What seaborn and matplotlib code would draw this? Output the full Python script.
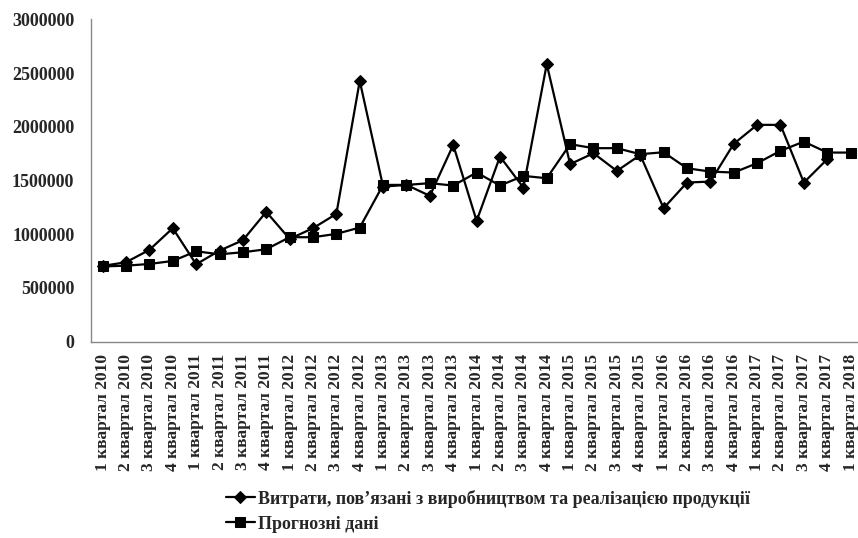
import numpy as np
import pandas as pd
import seaborn as sns
import matplotlib.pyplot as plt

# quarters 1 кв 2010 .. 1 кв 2018
quarters = [f"{q} квартал {y}" for y in range(2010, 2018) for q in range(1, 5)] + ["1 квартал 2018"]

# actual costs (last quarter missing)
costs = [705000, 739000, 854000, 1056000, 720000, 847000, 944000, 1208000,
         956000, 1056000, 1189000, 2427000, 1443000, 1459000, 1357000, 1831000,
         1124000, 1723000, 1434000, 2583000, 1652000, 1754000, 1589000, 1738000,
         1242000, 1481000, 1490000, 1841000, 2018000, 2018000, 1481000, 1698000,
         np.nan]

# forecast
forecast = [700000, 707000, 723000, 751000, 841000, 813000, 832000, 860000,
            972000, 972000, 1003000, 1062000, 1459000, 1459000, 1475000, 1453000,
            1574000, 1453000, 1543000, 1521000, 1838000, 1801000, 1801000, 1745000,
            1763000, 1614000, 1583000, 1574000, 1661000, 1776000, 1862000, 1760000,
            1760000]

label_costs = "Витрати, пов’язані з виробництвом та реалізацією продукції"
label_fc = "Прогнозні дані"

sns.set_style("white")
plt.rcParams['font.family'] = ['Liberation Serif', 'DejaVu Serif']
plt.rcParams['font.weight'] = 'bold'

df = pd.DataFrame({"pos": np.arange(len(quarters)), "costs": costs, "forecast": forecast})

fig = plt.figure(figsize=(8.58, 5.38), dpi=100)
ax = fig.add_axes([0.106, 0.365, 0.899, 0.599])

sns.lineplot(data=df, x="pos", y="costs", ax=ax, color="black", linewidth=1.6,
             marker="D", markersize=6, markeredgecolor="black", label=label_costs)
sns.lineplot(data=df, x="pos", y="forecast", ax=ax, color="black", linewidth=1.6,
             marker="s", markersize=7, markeredgecolor="black", label=label_fc)

ax.set_xlim(-0.5, len(quarters) - 0.5)
ax.set_ylim(0, 3000000)
ax.set_yticks(np.arange(0, 3000001, 500000))
ax.set_yticklabels([str(v) for v in range(0, 3000001, 500000)])
ax.set_xticks(np.arange(len(quarters)))
ax.set_xticklabels(quarters, rotation=90)
for t in ax.get_yticklabels():
    t.set_fontsize(13)
    t.set_fontweight('bold')
for t in ax.get_xticklabels():
    t.set_fontsize(12.5)
    t.set_fontweight('bold')
ax.set_xticks(np.arange(len(quarters) + 1) - 0.5, minor=True)
ax.tick_params(axis='x', which='major', length=0, pad=9)
ax.tick_params(axis='x', which='minor', length=5, color='#888888', direction='out')
ax.tick_params(axis='y', length=5, color='#888888', direction='out', pad=7)
ax.set_xlabel("")
ax.set_ylabel("")

for s in ["top", "right"]:
    ax.spines[s].set_visible(False)
for s in ["left", "bottom"]:
    ax.spines[s].set_color('#888888')
    ax.spines[s].set_linewidth(1)

handles, labels = ax.get_legend_handles_labels()
ax.get_legend().remove()
fig.legend(handles, labels, loc='upper left', bbox_to_anchor=(0.263, 0.09),
           bbox_transform=fig.transFigure, frameon=False,
           handlelength=1.6, handletextpad=0.2, labelspacing=0.45,
           borderpad=0, borderaxespad=0,
           prop={'weight': 'bold', 'size': 13})

fig.savefig("out.png", dpi=100)
